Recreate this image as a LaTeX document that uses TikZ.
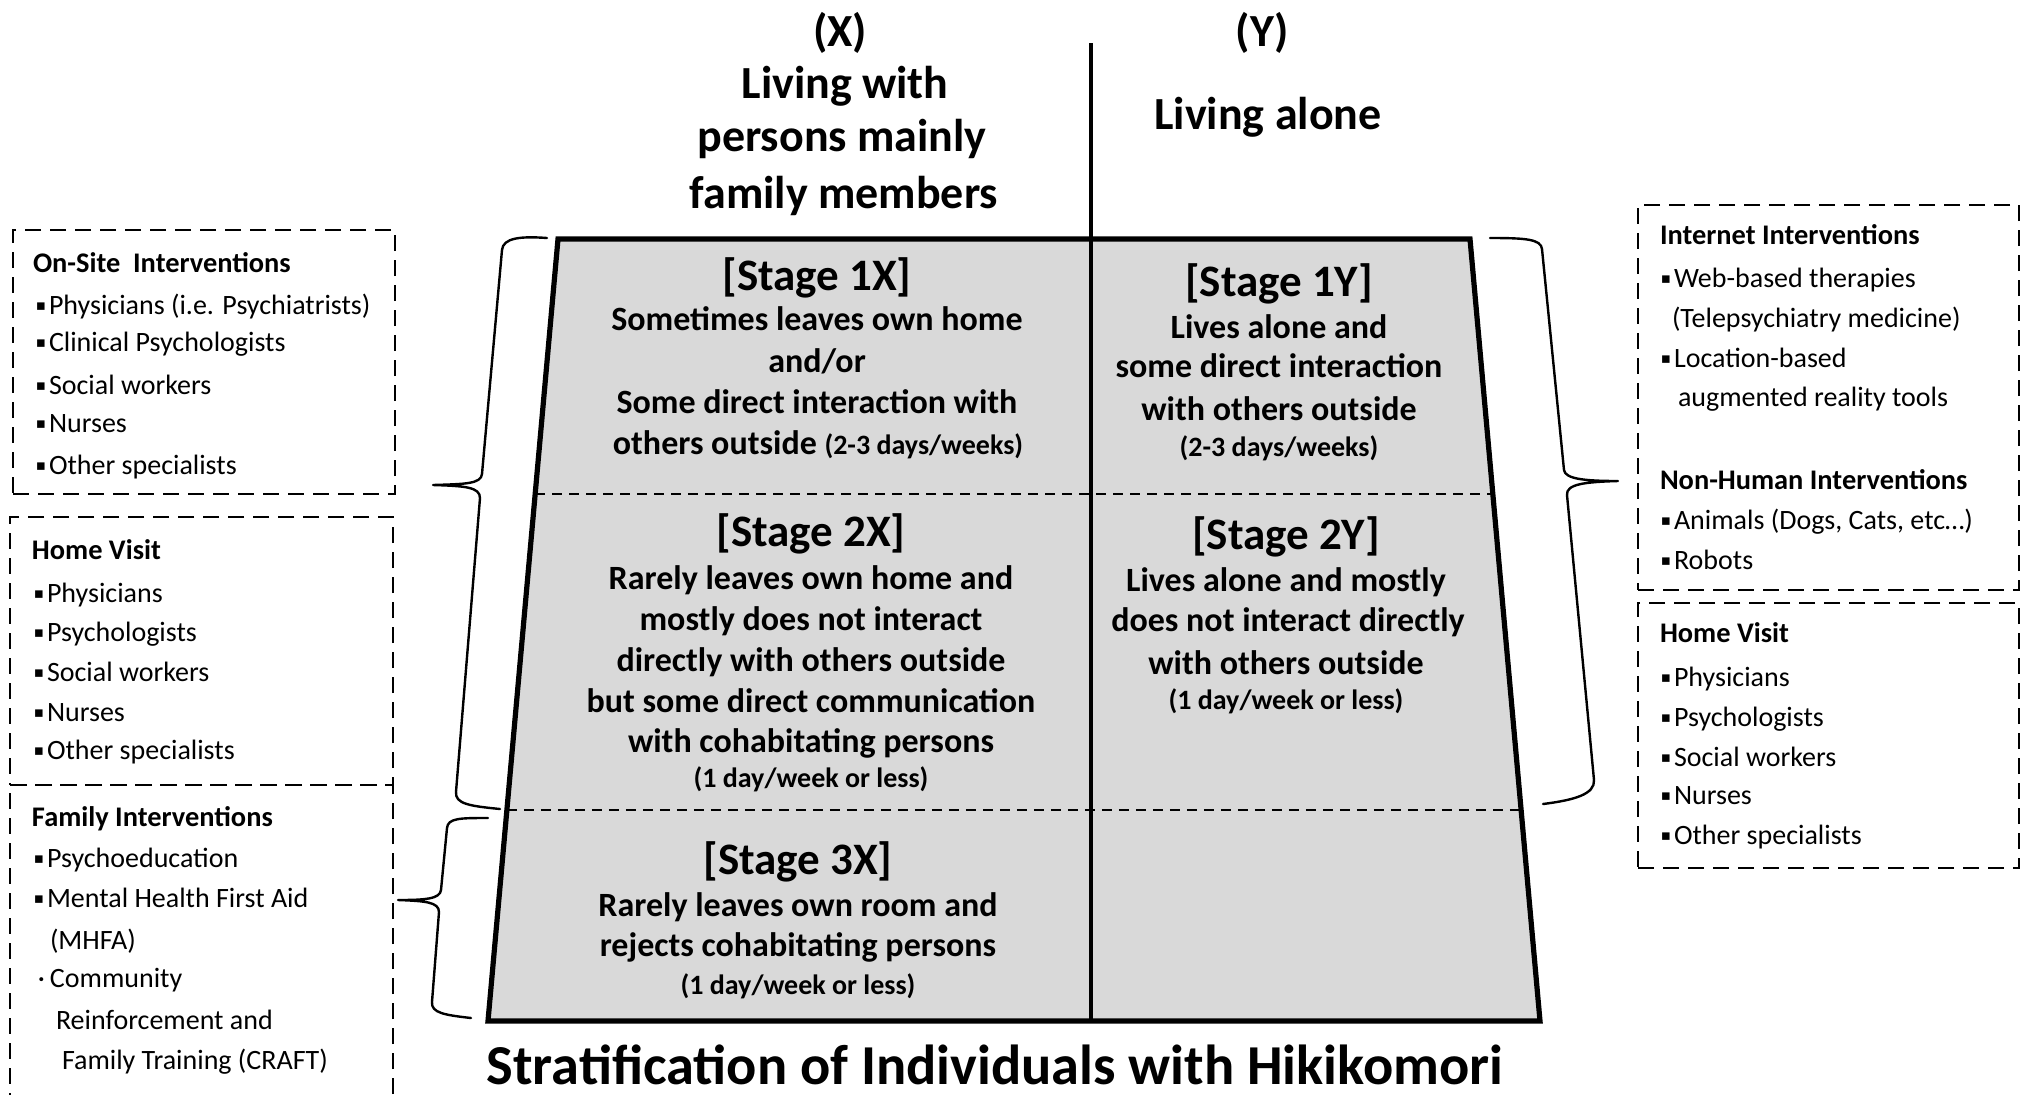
\documentclass[tikz,border=0pt]{standalone}
\usepackage{fontspec}
\setmainfont{Carlito}
\newfontfamily\dvs{DejaVu Sans}
\usetikzlibrary{calc}
\definecolor{trapgray}{HTML}{D9D9D9}
\newcommand\bul{\makebox[6pt][l]{\hspace{-0.6pt}\raisebox{1.6pt}{\dvs\fontsize{7.5}{7.5}\selectfont ▪}}}
\newcommand\smallsz{\fontsize{14}{16}\selectfont}
\begin{document}
\begin{tikzpicture}[x=0.5pt,y=-0.5pt,
  every node/.style={inner sep=0pt, outer sep=0pt},
  hdr/.style={font=\bfseries\fontsize{23}{27}\selectfont, text height=14.8pt, text depth=0pt},
  stt/.style={font=\bfseries\fontsize{22.5}{27}\selectfont, text height=14.5pt, text depth=0pt},
  stb/.style={font=\bfseries\fontsize{17}{20}\selectfont, text height=10.9pt, text depth=0pt},
  sts/.style={font=\bfseries\fontsize{14}{16}\selectfont, text height=9pt, text depth=0pt},
  ttl/.style={font=\bfseries\fontsize{28.2}{32}\selectfont, text height=18pt, text depth=0pt},
  bxh/.style={font=\bfseries\fontsize{14.2}{16}\selectfont, anchor=west, text height=9pt, text depth=0pt},
  bxi/.style={font=\fontsize{14}{16}\selectfont, anchor=west, text height=9pt, text depth=0pt},
  dbox/.style={draw, line width=1pt, dash pattern=on 8pt off 4.5pt, anchor=north west},
  midline/.style={line width=1pt, dash pattern=on 5pt off 3.5pt},
  axisline/.style={line width=1.8pt},
  trapedge/.style={line width=2.6pt, line join=miter},
  bracestyle/.style={line width=1.2pt, line cap=round, line join=round}
]
\useasboundingbox (0,0) rectangle (2026,1094);
\clip (0,0) rectangle (2026,1094);

% ---------- trapezoid ----------
\coordinate (TL) at (558,239);
\coordinate (TR) at (1470,239);
\coordinate (BR) at (1540,1021);
\coordinate (BL) at (488,1021);
\fill[trapgray] (TL) -- (TR) -- (BR) -- (BL) -- cycle;
\coordinate (D1L) at ($(TL)!0.326!(BL)$);
\coordinate (D1R) at ($(TR)!0.326!(BR)$);
\coordinate (D2L) at ($(TL)!0.730!(BL)$);
\coordinate (D2R) at ($(TR)!0.730!(BR)$);
\draw[midline] (D1L) -- (D1R);
\draw[midline] (D2L) -- (D2R);
\coordinate (VT) at (1091,43);
\coordinate (VB) at (1091,1021);
\draw[axisline] (VT) -- (VB);
\draw[trapedge] (TL) -- (TR) -- (BR) -- (BL) -- cycle;

% ---------- header ----------
\node[hdr] (hX)  at (840,32)  {(X)};
\node[hdr] (hX1) at (845,84)  {Living with};
\node[hdr] (hX2) at (842,137) {persons mainly};
\node[hdr] (hX3) at (844,194) {family members};
\node[hdr] (hY)  at (1262,32) {(Y)};
\node[hdr] (hY1) at (1268,115) {Living alone};

% ---------- stage 1X ----------
\node[stt] (s1x)  at (817,276) {[Stage 1X]};
\node[stb] (s1x1) at (817,320) {Sometimes leaves own home};
\node[stb] (s1x2) at (817,362) {and/or};
\node[stb] (s1x3) at (817,403) {Some direct interaction with};
\node[stb] (s1x4) at (818,444) {others outside {\smallsz (2-3 days/weeks)}};
% ---------- stage 1Y ----------
\node[stt] (s1y)  at (1279,282) {[Stage 1Y]};
\node[stb] (s1y1) at (1279,328) {Lives alone and};
\node[stb] (s1y2) at (1279,367) {some direct interaction};
\node[stb] (s1y3) at (1279,410) {with others outside};
\node[sts] (s1y4) at (1279,447) {(2-3 days/weeks)};
% ---------- stage 2X ----------
\node[stt] (s2x)  at (811,532) {[Stage 2X]};
\node[stb] (s2x1) at (811,579) {Rarely leaves own home and};
\node[stb] (s2x2) at (811,620) {mostly does not interact};
\node[stb] (s2x3) at (811,661) {directly with others outside};
\node[stb] (s2x4) at (811,702) {but some direct communication};
\node[stb] (s2x5) at (811,742) {with cohabitating persons};
\node[sts] (s2x6) at (811,778) {(1 day/week or less)};
% ---------- stage 2Y ----------
\node[stt] (s2y)  at (1286,535) {[Stage 2Y]};
\node[stb] (s2y1) at (1286,581) {Lives alone and mostly};
\node[stb] (s2y2) at (1288,621) {does not interact directly};
\node[stb] (s2y3) at (1286,664) {with others outside};
\node[sts] (s2y4) at (1286,700) {(1 day/week or less)};
% ---------- stage 3X ----------
\node[stt] (s3x)  at (798,860) {[Stage 3X]};
\node[stb] (s3x1) at (798,906) {Rarely leaves own room and};
\node[stb] (s3x2) at (798,946) {rejects cohabitating persons};
\node[sts] (s3x3) at (798,985) {(1 day/week or less)};

% ---------- title ----------
\node[ttl] (title) at (995,1066) {Stratification of Individuals with Hikikomori};

% ---------- left boxes ----------
\node[dbox, minimum width=191pt, minimum height=132pt] (bOnsite) at (13,230) {};
\node[dbox, minimum width=191.5pt, minimum height=134pt] (bHomeL) at (10,517) {};
\node[dbox, minimum width=191.5pt, minimum height=163pt] (bFam) at (10,785) {};

\node[bxh] (os0) at (33,263) {On-Site\ \ Interventions};
\node[bxi] (os1) at (37,305) {\bul Physicians (i.e. Psychiatrists)};
\node[bxi] (os2) at (37,342) {\bul Clinical Psychologists};
\node[bxi] (os3) at (37,385) {\bul Social workers};
\node[bxi] (os4) at (37,423) {\bul Nurses};
\node[bxi] (os5) at (37,465) {\bul Other specialists};

\node[bxh] (hl0) at (32,550) {Home Visit};
\node[bxi] (hl1) at (35,593) {\bul Physicians};
\node[bxi] (hl2) at (35,632) {\bul Psychologists};
\node[bxi] (hl3) at (35,672) {\bul Social workers};
\node[bxi] (hl4) at (35,712) {\bul Nurses};
\node[bxi] (hl5) at (35,750) {\bul Other specialists};

\node[bxh] (fi0) at (32,817) {Family Interventions};
\node[bxi] (fi1) at (35,858) {\bul Psychoeducation};
\node[bxi] (fi2) at (35,898) {\bul Mental Health First Aid};
\node[bxi] (fi3) at (50,940) {(MHFA)};
\node[bxi] (fi4) at (38,978) {\makebox[6pt][l]{·}Community};
\node[bxi] (fi5) at (56,1020) {Reinforcement and};
\node[bxi] (fi6) at (62,1060) {Family Training (CRAFT)};

% ---------- right boxes ----------
\node[dbox, minimum width=190.5pt, minimum height=192.5pt] (bNet) at (1638,205) {};
\node[dbox, minimum width=190.5pt, minimum height=132.5pt] (bHomeR) at (1638,603) {};

\node[bxh] (ni0) at (1660,235) {Internet Interventions};
\node[bxi] (ni1) at (1662,278) {\bul Web-based therapies};
\node[bxi] (ni2) at (1672,318) {(Telepsychiatry medicine)};
\node[bxi] (ni3) at (1662,358) {\bul Location-based};
\node[bxi] (ni4) at (1678,397) {augmented reality tools};
\node[bxh] (nh0) at (1660,480) {Non-Human Interventions};
\node[bxi] (nh1) at (1662,520) {\bul Animals (Dogs, Cats, etc…)};
\node[bxi] (nh2) at (1662,560) {\bul Robots};

\node[bxh] (hr0) at (1660,633) {Home Visit};
\node[bxi] (hr1) at (1662,677) {\bul Physicians};
\node[bxi] (hr2) at (1662,717) {\bul Psychologists};
\node[bxi] (hr3) at (1662,757) {\bul Social workers};
\node[bxi] (hr4) at (1662,795) {\bul Nurses};
\node[bxi] (hr5) at (1662,835) {\bul Other specialists};

% ---------- braces ----------
\draw[bracestyle] (547,238) .. controls (520,236) and (503,238) .. (502,250)
  -- (482,474) .. controls (481,484) and (465,484) .. (433,485)
  .. controls (465,486) and (480,487) .. (480,498)
  -- (456,792) .. controls (455,804) and (470,806) .. (500,809);
\draw[bracestyle] (488,818) .. controls (460,818) and (448,818) .. (447,828)
  -- (441,890) .. controls (440,899) and (425,900) .. (398,900)
  .. controls (425,901) and (439,902) .. (439,912)
  -- (432,1002) .. controls (431,1013) and (445,1015) .. (471,1018);
\draw[bracestyle] (1490,238) .. controls (1525,238) and (1541,239) .. (1542,249)
  -- (1564,470) .. controls (1565,479) and (1585,481) .. (1618,481)
  .. controls (1585,482) and (1566,484) .. (1567,495)
  -- (1594,780) .. controls (1595,794) and (1575,800) .. (1543,804);
\end{tikzpicture}
\end{document}
